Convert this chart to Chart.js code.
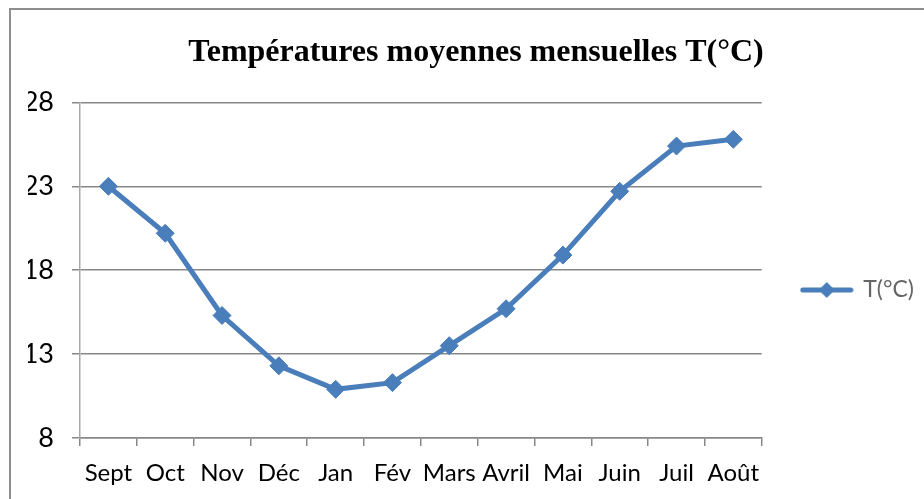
<!DOCTYPE html>
<html>
<head>
<meta charset="utf-8">
<script src="https://cdn.jsdelivr.net/npm/chart.js@4/dist/chart.umd.min.js"></script>
<style>
  html, body { margin: 0; padding: 0; background: #fff; overflow: hidden; }
  #frame { position: absolute; left: 9px; top: 8px; width: 1200px; height: 800px;
           border-left: 2px solid #8e8e8e; border-top: 2px solid #8e8e8e; }
  #wrap { position: absolute; left: 0; top: 0; width: 924px; height: 499px; }
</style>
</head>
<body>
<div id="frame"></div>
<div id="wrap"><canvas id="c" width="924" height="499"></canvas></div>
<script>
const categories = ['Sept', 'Oct', 'Nov', 'Déc', 'Jan', 'Fév', 'Mars', 'Avril', 'Mai', 'Juin', 'Juil', 'Août'];
const temperatures = [23.0, 20.2, 15.3, 12.3, 10.9, 11.3, 13.5, 15.7, 18.9, 22.7, 25.4, 25.8];
const yTicks = [8, 13, 18, 23, 28];
const seriesName = 'T(°C)';
const titleText = 'Températures moyennes mensuelles T(°C)';

const BLUE = '#4a7ebb';
const GRID = '#878787';

// legend icon: line with diamond marker
const icon = document.createElement('canvas');
icon.width = 54; icon.height = 20;
(function () {
  const g = icon.getContext('2d');
  g.strokeStyle = BLUE; g.lineWidth = 5; g.lineCap = 'round';
  g.beginPath(); g.moveTo(3, 10); g.lineTo(51, 10); g.stroke();
  g.fillStyle = BLUE;
  g.beginPath(); g.moveTo(27, 2); g.lineTo(35, 10); g.lineTo(27, 18); g.lineTo(19, 10); g.closePath(); g.fill();
})();

new Chart(document.getElementById('c'), {
  type: 'line',
  data: {
    labels: categories,
    datasets: [{
      label: seriesName,
      data: temperatures,
      borderColor: BLUE,
      backgroundColor: BLUE,
      borderWidth: 5,
      tension: 0,
      pointStyle: 'rectRot',
      pointRadius: 9,
      pointBorderWidth: 1,
      pointBackgroundColor: BLUE,
      pointBorderColor: BLUE
    }]
  },
  options: {
    responsive: false,
    animation: false,
    layout: { padding: { left: 28, right: 0, top: 0, bottom: 0 } },
    plugins: {
      tooltip: { enabled: false },
      title: {
        display: true,
        text: titleText,
        color: '#000',
        font: { family: 'Liberation Serif', size: 32, weight: 'bold' },
        padding: { top: 34, bottom: 30 }
      },
      legend: {
        display: true,
        position: 'right',
        title: { display: true, text: '', font: { size: 10 }, padding: { top: 0, bottom: 69 } },
        labels: {
          color: '#000',
          font: { family: 'Lato', size: 23 },
          usePointStyle: true,
          pointStyleWidth: 50,
          padding: 40,
          generateLabels: (chart) => chart.data.datasets.map((ds, i) => ({
            text: ds.label,
            pointStyle: icon,
            fillStyle: BLUE,
            strokeStyle: BLUE,
            lineWidth: 0,
            hidden: false,
            datasetIndex: i
          }))
        }
      }
    },
    scales: {
      x: {
        offset: true,
        afterFit: (s) => { s.height = 61; },
        grid: { display: true, drawOnChartArea: false, drawTicks: true, tickLength: 8, color: GRID, lineWidth: 1.5, offset: true },
        border: { display: true, color: GRID, width: 1.5 },
        ticks: { color: '#000', font: { family: 'Lato', size: 24 }, padding: 13, maxRotation: 0, autoSkip: false }
      },
      y: {
        min: 8,
        max: 28,
        afterFit: (s) => { s.width = 52; },
        afterBuildTicks: (s) => { s.ticks = yTicks.map(v => ({ value: v })); },
        grid: { color: GRID, lineWidth: 1.5, tickLength: 8, drawTicks: true },
        border: { display: true, color: '#a8a8a8', width: 1.5 },
        ticks: { color: '#000', font: { family: 'Lato', size: 27 }, padding: 18 }
      }
    }
  }
});
</script>
</body>
</html>
